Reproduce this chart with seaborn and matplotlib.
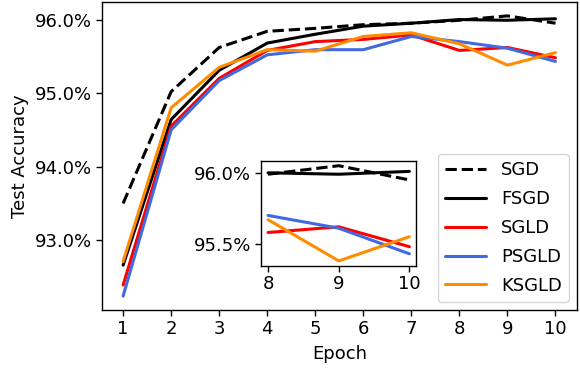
import matplotlib
matplotlib.use("Agg")
import matplotlib.pyplot as plt
import seaborn as sns
import pandas as pd
from matplotlib.ticker import PercentFormatter, MultipleLocator

epochs = [1, 2, 3, 4, 5, 6, 7, 8, 9, 10]
sgd = [93.50, 95.02, 95.62, 95.84, 95.88, 95.93, 95.95, 95.99, 96.05, 95.95]
fsgd = [92.66, 94.64, 95.31, 95.68, 95.80, 95.91, 95.95, 96.00, 95.99, 96.01]
sgld = [92.39, 94.55, 95.20, 95.58, 95.70, 95.73, 95.79, 95.58, 95.62, 95.48]
psgld = [92.24, 94.50, 95.17, 95.52, 95.59, 95.59, 95.77, 95.70, 95.61, 95.43]
ksgld = [92.71, 94.80, 95.35, 95.59, 95.57, 95.77, 95.82, 95.67, 95.38, 95.55]

names = ["SGD", "FSGD", "SGLD", "PSGLD", "KSGLD"]
series = [sgd, fsgd, sgld, psgld, ksgld]
colors = ["black", "black", "red", "royalblue", "darkorange"]
styles = ["--", "-", "-", "-", "-"]

sns.set_style("ticks")
plt.rcParams["font.family"] = ["DejaVu Sans"]
plt.rcParams.update({"text.color": "black", "axes.labelcolor": "black",
                     "xtick.color": "black", "ytick.color": "black"})
FS = 13

fig = plt.figure(figsize=(5.8, 3.7), dpi=100)
ax = fig.add_axes([0.175, 0.162, 0.82, 0.833])

for name, vals, c, ls in zip(names, series, colors, styles):
    df = pd.DataFrame({"Epoch": epochs, "acc": vals})
    sns.lineplot(data=df, x="Epoch", y="acc", color=c, linestyle=ls,
                 linewidth=2.2, label=name, ax=ax)

ax.set_xticks(epochs)
ax.yaxis.set_major_locator(MultipleLocator(1.0))
ax.yaxis.set_major_formatter(PercentFormatter(decimals=1))
ax.set_xlabel("Epoch", fontsize=FS, labelpad=5)
ax.set_ylabel("Test Accuracy", fontsize=FS, labelpad=4)
ax.tick_params(labelsize=FS, width=1, length=4, color="black", pad=3)
for s in ax.spines.values():
    s.set_color("black")
    s.set_linewidth(1)
leg = ax.legend(loc="lower right", fontsize=FS, frameon=True, fancybox=True,
                framealpha=0.8, edgecolor="0.8", borderaxespad=0.45,
                labelspacing=0.6, handlelength=2.3)

ins = fig.add_axes([0.45, 0.282, 0.268, 0.283])
for name, vals, c, ls in zip(names, series, colors, styles):
    df = pd.DataFrame({"Epoch": epochs[7:], "acc": vals[7:]})
    sns.lineplot(data=df, x="Epoch", y="acc", color=c, linestyle=ls,
                 linewidth=2.2, ax=ins, legend=False)
ins.set_xticks([8, 9, 10])
ins.yaxis.set_major_locator(MultipleLocator(0.5))
ins.yaxis.set_major_formatter(PercentFormatter(decimals=1))
ins.set_xlabel("")
ins.set_ylabel("")
ins.tick_params(labelsize=FS, width=1, length=4, color="black", pad=3)
for s in ins.spines.values():
    s.set_color("black")
    s.set_linewidth(1)

fig.savefig("out.png", dpi=100)
